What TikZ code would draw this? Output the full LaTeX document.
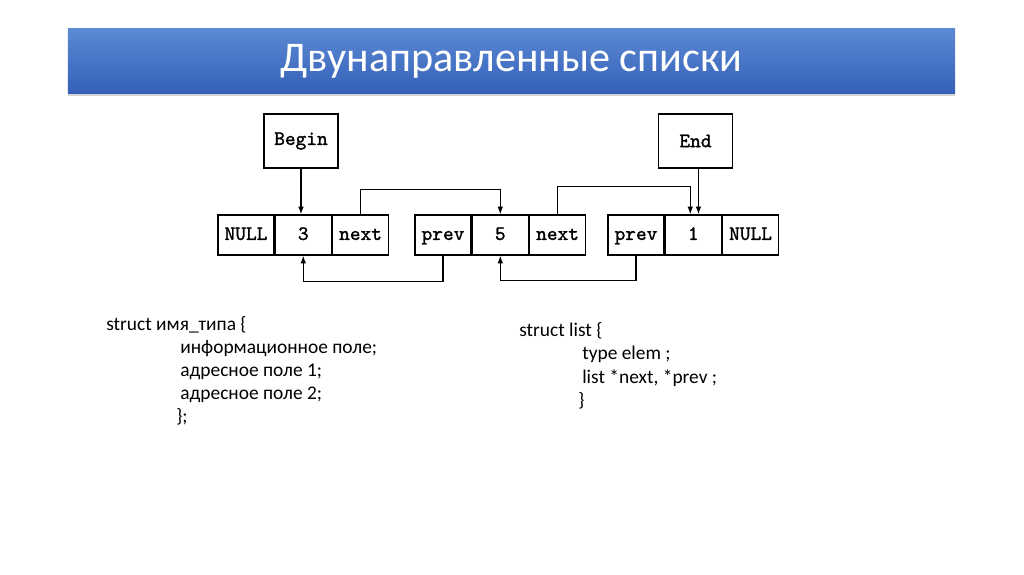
\documentclass[tikz,border=0pt]{standalone}
\usepackage{fontspec}
\setmainfont{Carlito}
\newfontfamily\cellfont[FakeBold=1.3]{lmmono10-regular.otf}
\usetikzlibrary{arrows.meta,positioning,shadows}
\definecolor{bartop}{RGB}{92,137,211}
\definecolor{barbot}{RGB}{52,97,184}

\tikzset{
	cell/.style={draw, line width=0.9pt, minimum width=1.4cm, minimum height=1cm, inner sep=0pt, text height=8pt, text depth=1pt, font=\cellfont\fontsize{14.5}{16}\selectfont},
	ptrbox/.style={draw, line width=0.9pt, minimum width=1.85cm, minimum height=1.35cm, inner sep=0pt, font=\cellfont\fontsize{14.5}{16}\selectfont},
	link/.style={line width=0.9pt, -{Latex[length=5.5pt,width=4pt]}},
	code/.style={anchor=base west, inner sep=0pt, font=\fontsize{13.8}{16.4}\selectfont},
	titlebar/.style={top color=bartop, bottom color=barbot, minimum width=22.175cm, minimum height=1.6cm, text=white, font=\fontsize{30}{36}\selectfont, drop shadow={opacity=0.35, shadow xshift=0pt, shadow yshift=-2pt}}
}

\begin{document}
\begin{tikzpicture}[x=0.025cm, y=-0.025cm]
	\fill[white] (0,0) rectangle (1024,574);
	\useasboundingbox (0,0) rectangle (1024,574);
	\node[titlebar] (title) at (511.5,61) {\raisebox{-2pt}{Двунаправленные списки}};

	\node[ptrbox] (begin) at (301,141) {Begin};
	\node[ptrbox] (end) at (695.5,141) {End};

	\node[cell] (n1a) at (246,235) {NULL};
	\node[cell, right=0pt of n1a] (n1b) {3};
	\node[cell, right=0pt of n1b] (n1c) {next};
	\node[cell] (n2a) at (443,235) {prev};
	\node[cell, right=0pt of n2a] (n2b) {5};
	\node[cell, right=0pt of n2b] (n2c) {next};
	\node[cell] (n3a) at (636,235) {prev};
	\node[cell, right=0pt of n3a] (n3b) {1};
	\node[cell, right=0pt of n3b] (n3c) {NULL};

	\draw[link] (begin.south) -- (begin.south |- n1b.north);
	\draw[link] ([xshift=0.075cm]end.south) -- ([xshift=0.075cm]end.south |- n3b.north);
	\draw[link] (n1c.north) -- ++(0,-25) -| (n2b.north);
	\draw[link] (n2c.north) -- ++(0,-28) -| ([xshift=-0.075cm]n3b.north);
	\draw[link] (n2a.south) -- ++(0,26) -| (n1b.south);
	\draw[link] (n3a.south) -- ++(0,25) -| (n2b.south);

	\node[code] (s1) at (106,330) {struct имя\_типа \{};
	\node[code] (s2) at (180,353) {информационное поле;};
	\node[code] (s3) at (180,376) {адресное поле 1;};
	\node[code] (s4) at (180,399) {адресное поле 2;};
	\node[code] (s5) at (176,422) {\};};

	\node[code] (l1) at (519,336) {struct list \{};
	\node[code] (l2) at (582,359) {type elem ;};
	\node[code] (l3) at (582,383) {list *next, *prev ;};
	\node[code] (l4) at (578,406) {\}};
\end{tikzpicture}
\end{document}
